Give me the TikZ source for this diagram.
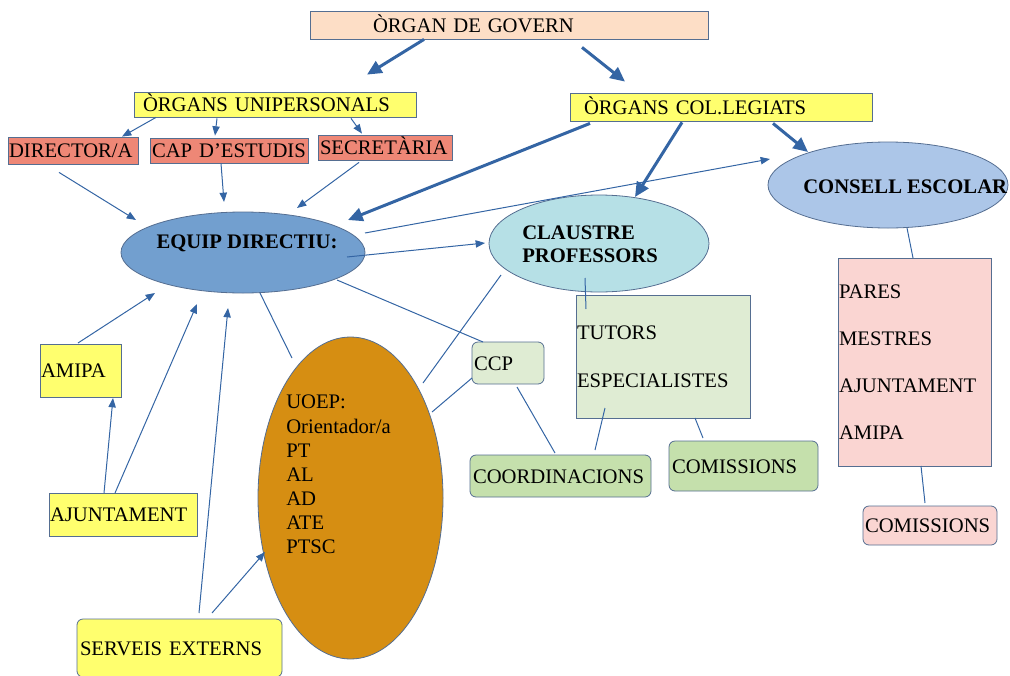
\documentclass[tikz,border=0pt]{standalone}
\usepackage{fontspec}
\setmainfont{Liberation Serif}
\usetikzlibrary{shapes.geometric,arrows.meta}

\definecolor{linkblue}{RGB}{52,101,164}
\definecolor{edgegray}{RGB}{85,110,145}
\definecolor{peach}{RGB}{253,222,198}
\definecolor{lemon}{RGB}{255,255,110}
\definecolor{salmonred}{RGB}{238,135,118}
\definecolor{steel}{RGB}{114,159,207}
\definecolor{aqua}{RGB}{182,224,230}
\definecolor{skyblue}{RGB}{172,198,232}
\definecolor{amber}{RGB}{214,142,18}
\definecolor{palegreen}{RGB}{223,236,211}
\definecolor{sage}{RGB}{197,224,172}
\definecolor{blush}{RGB}{250,213,210}

\tikzset{
    box/.style={draw=edgegray, line width=0.6pt, rectangle, inner ysep=0pt, align=left,
        font=\fontsize{15.5}{18}\selectfont, text height=10.5pt, text depth=0pt},
    roundbox/.style={box, rounded corners=4.5pt},
    listbox/.style={draw=edgegray, line width=0.6pt, rectangle, inner ysep=0pt, align=left},
    oval/.style={draw=edgegray, line width=0.6pt, ellipse, inner sep=0pt},
    txt/.style={inner sep=0pt, align=left, font=\fontsize{15.5}{18}\selectfont},
    link/.style={draw=linkblue, line width=0.75pt},
    arr/.style={link, -{Triangle[length=7pt,width=5.5pt]}},
    bigarr/.style={draw=linkblue, line width=2.25pt, -{Triangle[length=11pt,width=10pt]}},
}

\begin{document}
\begin{tikzpicture}[x=0.75pt,y=-0.75pt]
        \useasboundingbox (0,0) rectangle (1010,675);
        \node [box, fill=peach, text width=204pt, inner xsep=47.25pt, minimum height=21pt] (gov) at (509,25) {ÒRGAN DE GOVERN};
        \node [box, fill=lemon, text width=198pt, inner xsep=6.75pt, minimum height=18.75pt] (unip) at (275,104.5) {ÒRGANS UNIPERSONALS};
        \node [box, fill=lemon, text width=205.5pt, inner xsep=10.5pt, minimum height=21pt] (colleg) at (721,107) {ÒRGANS COL.LEGIATS};
        \node [box, fill=salmonred, text width=96pt, inner xsep=0.75pt, minimum height=20.25pt] (director) at (73,150.5) {DIRECTOR/A};
        \node [box, fill=salmonred, text width=115.5pt, inner xsep=1.5pt, minimum height=18.75pt] (cap) at (229,150.5) {CAP D’ESTUDIS};
        \node [box, fill=salmonred, text width=97.5pt, inner xsep=1.5pt, minimum height=18.75pt] (secr) at (385,147.5) {SECRETÀRIA};
        \node [oval, fill=steel, minimum width=183pt, minimum height=60.75pt] (equip) at (243,252.5) {};
        \node [txt, anchor=base, font=\fontsize{15.5}{18}\selectfont\bfseries] (equiptxt) at ([shift={(4,-4.5)}]equip.center) {EQUIP DIRECTIU:};
        \node [oval, fill=aqua, minimum width=165pt, minimum height=72.75pt] (claustre) at (599,243.5) {};
        \node [txt, anchor=north west, font=\fontsize{15.5}{17.25}\selectfont\bfseries] (claustretxt) at ([shift={(-77,-18)}]claustre.center) {CLAUSTRE\\PROFESSORS};
        \node [oval, fill=skyblue, minimum width=180pt, minimum height=64.5pt] (consell) at (888,185) {};
        \node [txt, anchor=base west, font=\fontsize{15.5}{18}\selectfont\bfseries] (conselltxt) at ([shift={(-85,8)}]consell.center) {CONSELL ESCOLAR};
        \node [oval, fill=amber, minimum width=138.75pt, minimum height=241.5pt] (uoep) at (350.5,498) {};
        \node [txt, anchor=north west, font=\fontsize{15.5}{18.1}\selectfont] (uoeptxt) at ([shift={(-64.5,-103)}]uoep.center) {UOEP:\\Orientador/a\\PT\\AL\\AD\\ATE\\PTSC};
        \node [roundbox, fill=palegreen, text width=51pt, inner xsep=1.5pt, minimum height=31.5pt] (ccp) at (508,363) {CCP};
        \node [listbox, fill=palegreen, text width=129pt, inner xsep=0.75pt, minimum height=92.25pt, font=\fontsize{15.5}{36}\selectfont] (tutors) at (663,356.5) {TUTORS\\ESPECIALISTES};
        \node [roundbox, fill=sage, text width=131.25pt, inner xsep=2.25pt, minimum height=31.5pt] (coord) at (560.5,476) {COORDINACIONS};
        \node [roundbox, fill=sage, text width=107.25pt, inner xsep=2.25pt, minimum height=37.5pt] (comis1) at (743.5,466) {COMISSIONS};
        \node [listbox, fill=blush, text width=113.25pt, inner xsep=0.75pt, minimum height=156pt, font=\fontsize{15.5}{35.25}\selectfont] (pares) at (914.5,362) {PARES\\MESTRES\\AJUNTAMENT\\AMIPA};
        \node [roundbox, fill=blush, text width=97.5pt, inner xsep=1.5pt, minimum height=29.25pt] (comis2) at (930,525.5) {COMISSIONS};
        \node [box, fill=lemon, text width=59.25pt, inner xsep=0.75pt, minimum height=39.75pt] (amipa) at (80.5,370.5) {AMIPA};
        \node [box, fill=lemon, text width=109.5pt, inner xsep=0.75pt, minimum height=32.25pt] (ajunt) at (123,514.5) {AJUNTAMENT};
        \node [roundbox, fill=lemon, text width=149.25pt, inner xsep=2.25pt, minimum height=43.5pt] (serveis) at (179.5,648) {SERVEIS EXTERNS};
        \draw [bigarr] ([shift={(-85,0)}]gov.south) -- ([shift={(92,-17)}]unip.north);
        \draw [bigarr] ([shift={(73,8)}]gov.south) -- ([shift={(-96,-11)}]colleg.north);
        \draw [arr] ([shift={(-119,0)}]unip.south) -- ([shift={(49,0)}]director.north);
        \draw [arr] ([shift={(-58,1)}]unip.south) -- ([shift={(-14,-2)}]cap.north);
        \draw [arr] ([shift={(76,1)}]unip.south) -- ([shift={(-23,-1)}]secr.north);
        \draw [arr] ([shift={(-14,8)}]director.south) -- ([shift={(-107,-32.5)}]equip.center);
        \draw [arr] ([shift={(-8,0)}]cap.south) -- ([shift={(-19,-50.5)}]equip.center);
        \draw [arr] ([shift={(-26,2)}]secr.south) -- ([shift={(54,-44.5)}]equip.center);
        \draw [bigarr] ([shift={(-131,2)}]colleg.south) -- ([shift={(105,-32.5)}]equip.center);
        \draw [bigarr] ([shift={(-39,1)}]colleg.south) -- ([shift={(36,-46.5)}]claustre.center);
        \draw [bigarr] ([shift={(52,2)}]colleg.south) -- ([shift={(-80,-33)}]consell.center);
        \draw [arr] ([shift={(122,-19.5)}]equip.center) -- ([shift={(-118,-26)}]consell.center);
        \draw [arr] ([shift={(104,4.5)}]equip.center) -- ([shift={(-114,-0.5)}]claustre.center);
        \draw [link] ([shift={(94,27.5)}]equip.center) -- ([shift={(-25,-21)}]ccp.center);
        \draw [link] ([shift={(17,40.5)}]equip.center) -- ([shift={(-58.5,-140)}]uoep.center);
        \draw [link] ([shift={(-98,31.5)}]claustre.center) -- ([shift={(72.5,-115)}]uoep.center);
        \draw [link] ([shift={(-36,15)}]ccp.center) -- ([shift={(81.5,-86)}]uoep.center);
        \draw [link] ([shift={(9,24)}]ccp.center) -- ([shift={(-5.5,-23)}]coord.center);
        \draw [link] ([shift={(-14,34.5)}]claustre.center) -- ([shift={(-77,-47.5)}]tutors.center);
        \draw [link] ([shift={(-58,51.5)}]tutors.center) -- ([shift={(34.5,-26)}]coord.center);
        \draw [link] ([shift={(32,61.5)}]tutors.center) -- ([shift={(-40.5,-28)}]comis1.center);
        \draw [link] ([shift={(19,43)}]consell.center) -- ([shift={(-1.5,-104)}]pares.center);
        \draw [link] ([shift={(6.5,104)}]pares.center) -- ([shift={(-5,-22.5)}]comis2.center);
        \draw [arr] ([shift={(-2.5,-27.5)}]amipa.center) -- ([shift={(-88,40.5)}]equip.center);
        \draw [arr] ([shift={(-19,-21.5)}]ajunt.center) -- ([shift={(32.5,27.5)}]amipa.center);
        \draw [arr] ([shift={(-8,-21.5)}]ajunt.center) -- ([shift={(-46,51.5)}]equip.center);
        \draw [arr] ([shift={(19.5,-35)}]serveis.center) -- ([shift={(-15,55.5)}]equip.center);
        \draw [arr] ([shift={(32.5,-35)}]serveis.center) -- ([shift={(-85.5,54)}]uoep.center);
\end{tikzpicture}
\end{document}
